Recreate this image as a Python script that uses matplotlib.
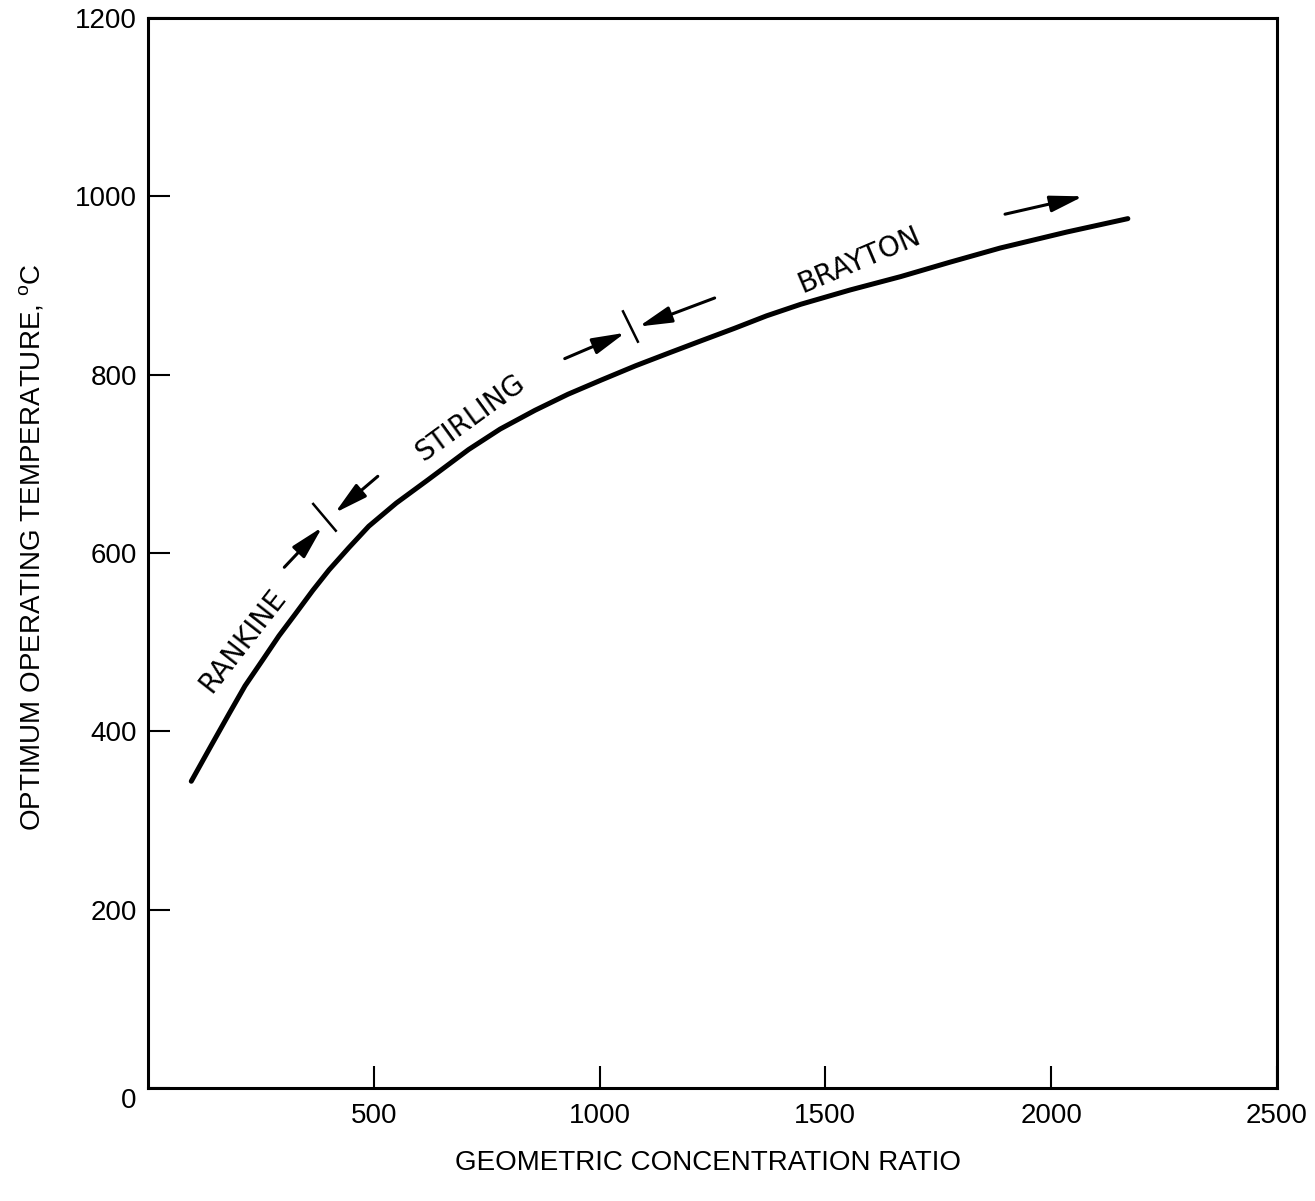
import numpy as np
import matplotlib
matplotlib.use("Agg")
import matplotlib.pyplot as plt

# curve
concentration_ratio = [96, 140, 180, 215, 254, 290, 327, 365, 401, 445, 489,
                       550, 620, 710, 780, 857, 930, 1004, 1080,
                       1152, 1225, 1299, 1370, 1446, 1555, 1667, 1775, 1887,
                       2035, 2170]
operating_temp = [344, 384, 420, 451, 480, 507, 532, 558, 581, 606, 630,
                  656, 682, 716, 739, 760, 778, 794, 810,
                  824, 838, 852, 866, 879, 895, 910, 926, 942,
                  960, 975]

x_ticks = [500, 1000, 1500, 2000, 2500]
y_ticks = [0, 200, 400, 600, 800, 1000, 1200]

# cycle labels: (text, x, y, angle)
cycle_labels = [
    ("RANKINE", 210, 502, 52),
    ("STIRLING", 713, 752, 36),
    ("BRAYTON", 1574, 929, 23),
]
# arrows: (tail x, tail y, head x, head y)
cycle_arrows = [
    (302, 584, 386, 629),
    (509, 686, 414, 645),
    (923, 818, 1057, 847),
    (1255, 886, 1087, 854),
    (1898, 980, 2071, 1000),
]
# boundary marks between cycles
boundary_marks = [
    ((366, 416), (655, 625)),
    ((1052, 1085), (871, 837)),
]

plt.rcParams['font.family'] = ['Liberation Sans', 'DejaVu Sans']

fig = plt.figure(figsize=(13.15, 12.01), dpi=100)
ax = fig.add_axes([0.1125, 0.0941, 0.8585, 0.8909])

ax.plot(concentration_ratio, operating_temp, color='black', lw=3.6,
        solid_capstyle='round', solid_joinstyle='round')

for txt, tx, ty, ang in cycle_labels:
    ax.text(tx, ty, txt, rotation=ang, rotation_mode='anchor', ha='center',
            va='center', fontsize=20, family='DejaVu Sans')

for x0, y0, x1, y1 in cycle_arrows:
    ax.annotate("", xy=(x1, y1), xytext=(x0, y0),
                arrowprops=dict(arrowstyle='-|>,head_length=1.0,head_width=0.25',
                                lw=2.2, color='black', mutation_scale=20,
                                shrinkA=0, shrinkB=0))

for mx, my in boundary_marks:
    ax.plot(mx, my, color='black', lw=1.8)

ax.set_xlim(0, 2500)
ax.set_ylim(0, 1200)
ax.set_xticks(x_ticks)
ax.set_yticks(y_ticks)
ax.tick_params(direction='in', length=16, width=1.5, labelsize=20)
ax.tick_params(axis='x', pad=11)
ax.tick_params(axis='y', pad=8)
ax.get_yticklabels()[0].set_va('top')

for sp in ax.spines.values():
    sp.set_linewidth(2.2)

ax.set_xlabel("GEOMETRIC CONCENTRATION RATIO", fontsize=20)
ax.set_ylabel("OPTIMUM OPERATING TEMPERATURE, $^\\mathregular{o}$C", fontsize=20)
ax.xaxis.set_label_coords(0.496, -0.058)
ax.yaxis.set_label_coords(-0.0895, 0.5056)

fig.savefig("out.png", dpi=100)
